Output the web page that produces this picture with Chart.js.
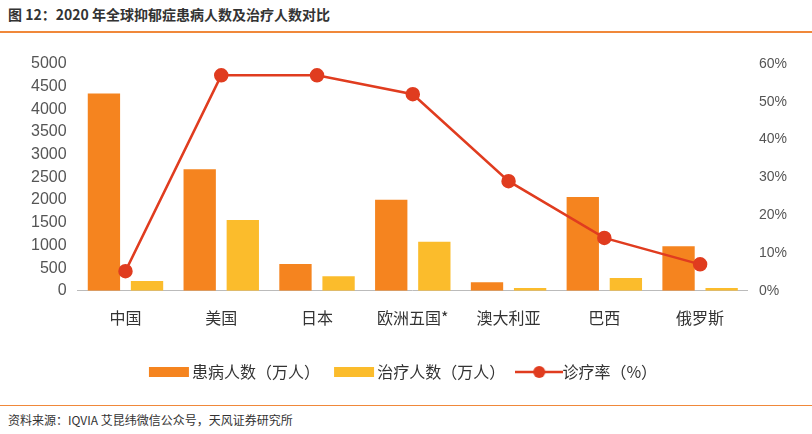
<!DOCTYPE html>
<html><head><meta charset="utf-8">
<script src="https://cdn.jsdelivr.net/npm/chart.js@4/dist/chart.umd.min.js"></script>
<style>
body{margin:0;width:812px;height:434px;background:#fff;font-family:"Noto Sans CJK SC",sans-serif;position:relative;overflow:hidden}
#t{position:absolute;left:8px;top:4px;font-size:14px;font-weight:bold;color:#333}
#l1{position:absolute;left:0;top:31px;width:812px;height:2px;background:#F0883A}
#l2{position:absolute;left:0;top:405px;width:812px;height:1px;background:#F0883A}
#f{position:absolute;left:8px;top:411px;font-size:12px;color:#333}
#w{position:absolute;left:0;top:40px;width:812px;height:350px}
</style></head><body>
<div id="t">图 12：2020 年全球抑郁症患病人数及治疗人数对比</div>
<div id="l1"></div>
<div id="w"><canvas id="c"></canvas></div>
<div id="l2"></div>
<div id="f">资料来源：IQVIA 艾昆纬微信公众号，天风证券研究所</div>
<script>
const categories=["中国","美国","日本","欧洲五国*","澳大利亚","巴西","俄罗斯"];
const patients=[4350,2680,590,2010,190,2070,980];
const treated=[215,1560,320,1080,60,280,60];
const rate=[5.2,57,57,52,29,14,7];
function icon(kind,color){const c=document.createElement('canvas');c.width=48;c.height=16;const g=c.getContext('2d');g.fillStyle=color;g.strokeStyle=color;
if(kind==='bar'){g.fillRect(4,3,40,10);}else{g.lineWidth=2.5;g.beginPath();g.moveTo(0,8);g.lineTo(48,8);g.stroke();g.beginPath();g.arc(24,8,6,0,Math.PI*2);g.fill();}return c;}
const icons=[icon('bar','#F5841F'),icon('bar','#FBBC2C'),icon('line','#E03C1F')];
new Chart(document.getElementById('c'),{
data:{labels:categories,datasets:[
{type:'bar',label:'患病人数（万人）',data:patients,backgroundColor:'#F5841F',yAxisID:'y',barPercentage:0.75,categoryPercentage:0.9,order:2},
{type:'bar',label:'治疗人数（万人）',data:treated,backgroundColor:'#FBBC2C',yAxisID:'y',barPercentage:0.75,categoryPercentage:0.9,order:2},
{type:'line',label:'诊疗率（%）',data:rate,borderColor:'#E03C1F',backgroundColor:'#E03C1F',borderWidth:2.5,pointRadius:6,pointHoverRadius:6,yAxisID:'y1',order:1}
]},
options:{responsive:true,maintainAspectRatio:false,animation:false,
layout:{padding:{left:28,right:22,top:24,bottom:0}},
plugins:{legend:{position:'bottom',labels:{font:{size:16,family:'Noto Sans CJK SC'},color:'#333',usePointStyle:true,padding:26,
sort:(a,b)=>a.datasetIndex-b.datasetIndex,
generateLabels:ch=>ch.data.datasets.map((d,i)=>({text:'  '+d.label,datasetIndex:i,pointStyle:icons[i],fontColor:'#333',hidden:false,lineWidth:0}))}}},
scales:{
x:{grid:{display:false},border:{color:'#bbb'},ticks:{padding:10,font:{size:16,family:'Noto Sans CJK SC'},color:'#333'}},
y:{min:0,max:5000,ticks:{stepSize:500,callback:v=>String(v),font:{size:16},color:'#555'},grid:{display:false},border:{display:false}},
y1:{position:'right',min:0,max:60,ticks:{stepSize:10,callback:v=>v+'%',font:{size:14},color:'#555'},grid:{display:false},border:{display:false}}
}}});
</script></body></html>
